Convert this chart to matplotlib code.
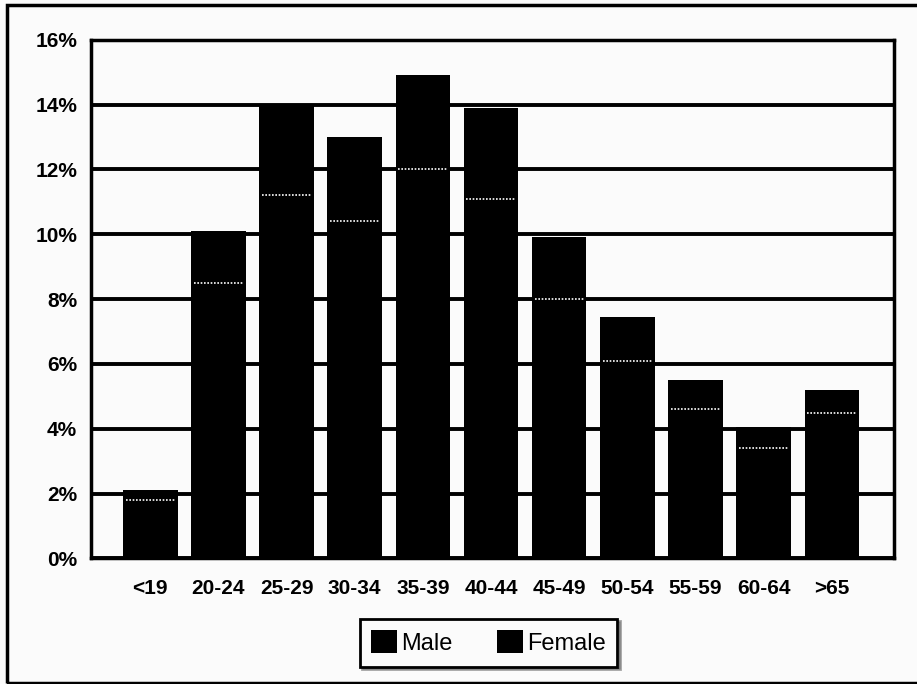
import matplotlib.pyplot as plt
import numpy as np
from matplotlib.patches import Rectangle

plt.rcParams['font.family'] = ['Liberation Sans', 'DejaVu Sans']

age_groups = ['<19', '20-24', '25-29', '30-34', '35-39', '40-44',
              '45-49', '50-54', '55-59', '60-64', '>65']
male = [1.8, 8.5, 11.2, 10.4, 12.0, 11.1, 8.0, 6.1, 4.6, 3.4, 4.5]
female = [0.3, 1.6, 2.8, 2.6, 2.9, 2.8, 1.9, 1.35, 0.9, 0.65, 0.7]
y_ticks = [0, 2, 4, 6, 8, 10, 12, 14, 16]

fig = plt.figure(figsize=(9.17, 6.84), dpi=100)
fig.patch.set_facecolor('#fbfbfb')

# outer frame around the whole chart
fig.add_artist(Rectangle((0.008, 0.002), 1.2, 0.99, transform=fig.transFigure,
                         fill=False, edgecolor='black', linewidth=2.5))

ax = fig.add_axes([0.0992, 0.1835, 0.8755, 0.7585])
ax.set_facecolor('#fbfbfb')

x = np.arange(len(age_groups))
ax.bar(x, male, width=0.8, color='black', zorder=3, label='Male')
ax.bar(x, female, width=0.8, bottom=male, color='black', zorder=3,
       label='Female')
# faint boundary between the two stacked segments
ax.hlines(male, x - 0.36, x + 0.36, colors='white', linestyles=(0, (1, 1)),
          linewidth=1.2, zorder=4)

ax.set_ylim(0, 16)
ax.set_xlim(-0.87, 10.91)
ax.set_yticks(y_ticks)
ax.set_yticklabels([f'{v}%' for v in y_ticks])
ax.set_xticks(x)
ax.set_xticklabels(age_groups)
ax.yaxis.grid(True, color='black', linewidth=2.8, zorder=1)
ax.tick_params(axis='both', length=0, labelsize=15)
ax.tick_params(axis='x', pad=15)
ax.tick_params(axis='y', pad=10)
for lab in ax.get_xticklabels() + ax.get_yticklabels():
    lab.set_fontweight('bold')
for side in ['left', 'top', 'right', 'bottom']:
    ax.spines[side].set_linewidth(2.5)

leg = ax.legend(loc='center', bbox_to_anchor=(0.495, -0.162), ncol=2,
                frameon=True, fancybox=False, shadow=True,
                handlelength=1.1, handleheight=1.1, handletextpad=0.15,
                columnspacing=1.9, borderpad=0.5, edgecolor='black',
                facecolor='#fbfbfb', prop={'size': 17})
leg.get_frame().set_linewidth(2)

fig.savefig('out.png', dpi=100, facecolor=fig.get_facecolor())
